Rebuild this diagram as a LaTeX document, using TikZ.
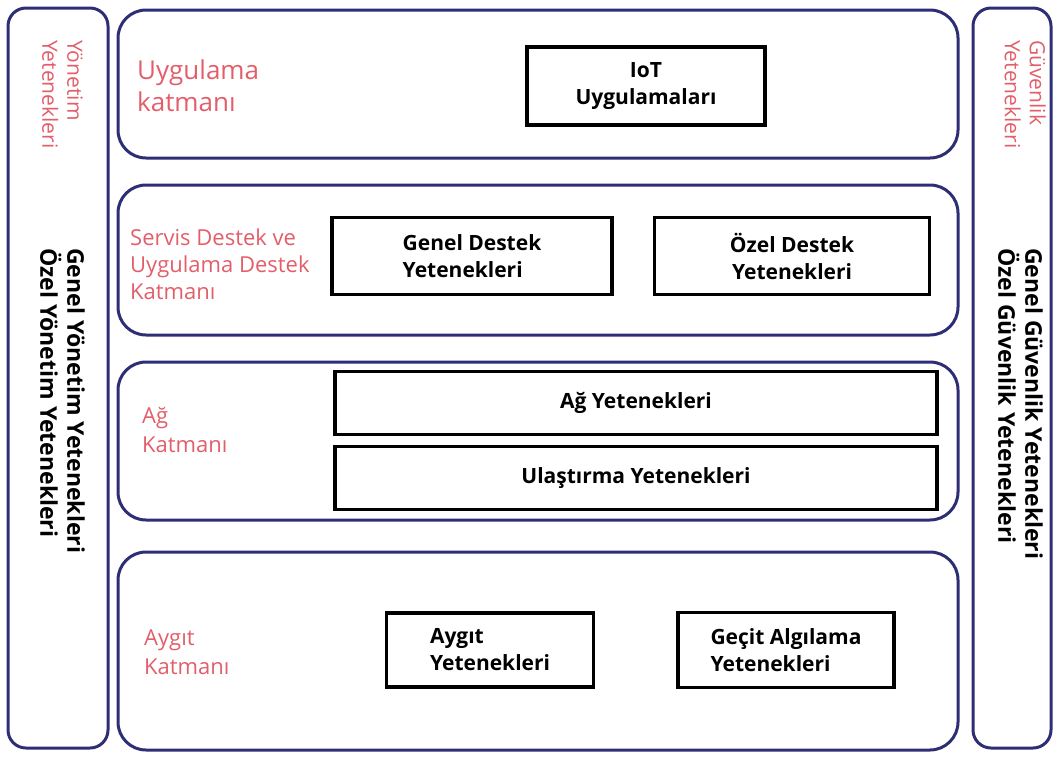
\documentclass[tikz,border=0pt]{standalone}
\usepackage{fontspec}
\setmainfont{Open Sans}
\usepackage{tikz}
\usetikzlibrary{positioning}
\definecolor{layerblue}{RGB}{46,46,118}
\definecolor{layerred}{RGB}{226,94,106}

\begin{document}
\begin{tikzpicture}[x=1pt,y=-1pt,
    layer/.style={draw=layerblue, line width=3pt, rounded corners=28pt, inner sep=0pt},
    sidecol/.style={draw=layerblue, line width=3pt, rounded corners=18pt, inner sep=0pt},
    capbox/.style={draw=black, line width=3.5pt, inner sep=0pt, align=left,
      font=\fontsize{21}{27}\selectfont\bfseries},
    redlabel/.style={text=layerred, anchor=west, align=left, inner sep=0pt},
    sidetext/.style={rotate=-90, anchor=north west, align=left, inner sep=0pt}]
    % Page size
    \useasboundingbox (0,0) rectangle (1055,758);
    % Side columns
    \node[sidecol, minimum width=100, minimum height=740] (mgmt) at (58,378) {};
    \node[sidecol, minimum width=78, minimum height=740] (sec) at (1012,378) {};
    % Layers
    \node[layer, minimum width=840, minimum height=148] (app) at (538,84) {};
    \node[layer, minimum width=840, minimum height=150] (svc) at (538,260) {};
    \node[layer, minimum width=840, minimum height=158] (net) at (538,441) {};
    \node[layer, minimum width=840, minimum height=198] (dev) at (538,651) {};
    % Layer names
    \node[redlabel, font=\fontsize{26}{32}\selectfont] (appname) at (137,86)
      {Uygulama\\katmanı};
    \node[redlabel, font=\fontsize{22}{27}\selectfont] (svcname) at (130,264)
      {Servis Destek ve\\Uygulama Destek\\Katmanı};
    \node[redlabel, font=\fontsize{22}{29}\selectfont] (netname) at (142,430)
      {Ağ\\Katmanı};
    \node[redlabel, font=\fontsize{22}{29}\selectfont] (devname) at (144,652)
      {Aygıt\\Katmanı};
    % Capabilities
    \node[capbox, align=center, minimum width=238, minimum height=78] (iot) at (646,86)
      {IoT\\Uygulamaları};
    \node[capbox, minimum width=280, minimum height=77] (gensup) at (472,256)
      {Genel Destek\\Yetenekleri};
    \node[capbox, align=center, minimum width=275, minimum height=77] (spesup) at (792,256)
      {Özel Destek\\Yetenekleri};
    \node[capbox, minimum width=602, minimum height=63] (netcap) at (636,403)
      {Ağ Yetenekleri};
    \node[capbox, minimum width=602, minimum height=63] (trans) at (636,478)
      {Ulaştırma Yetenekleri};
    \node[capbox, minimum width=207, minimum height=74] (devcap) at (490,650)
      {Aygıt\\Yetenekleri};
    \node[capbox, minimum width=216, minimum height=75] (gate) at (786,650)
      {Geçit Algılama\\Yetenekleri};
    % Side texts
    \node[sidetext, text=layerred, font=\fontsize{21}{25}\selectfont] (mgmtname) at (83,40)
      {Yönetim\\Yetenekleri};
    \node[sidetext, font=\fontsize{23}{27}\selectfont\bfseries] (mgmtcap) at (85,248)
      {Genel Yönetim Yetenekleri\\Özel Yönetim Yetenekleri};
    \node[sidetext, text=layerred, font=\fontsize{21}{25}\selectfont] (secname) at (1046,40)
      {Güvenlik\\Yetenekleri};
    \node[sidetext, font=\fontsize{23}{27}\selectfont\bfseries] (seccap) at (1043,248)
      {Genel Güvenlik Yetenekleri\\Özel Güvenlik Yetenekleri};
\end{tikzpicture}
\end{document}
